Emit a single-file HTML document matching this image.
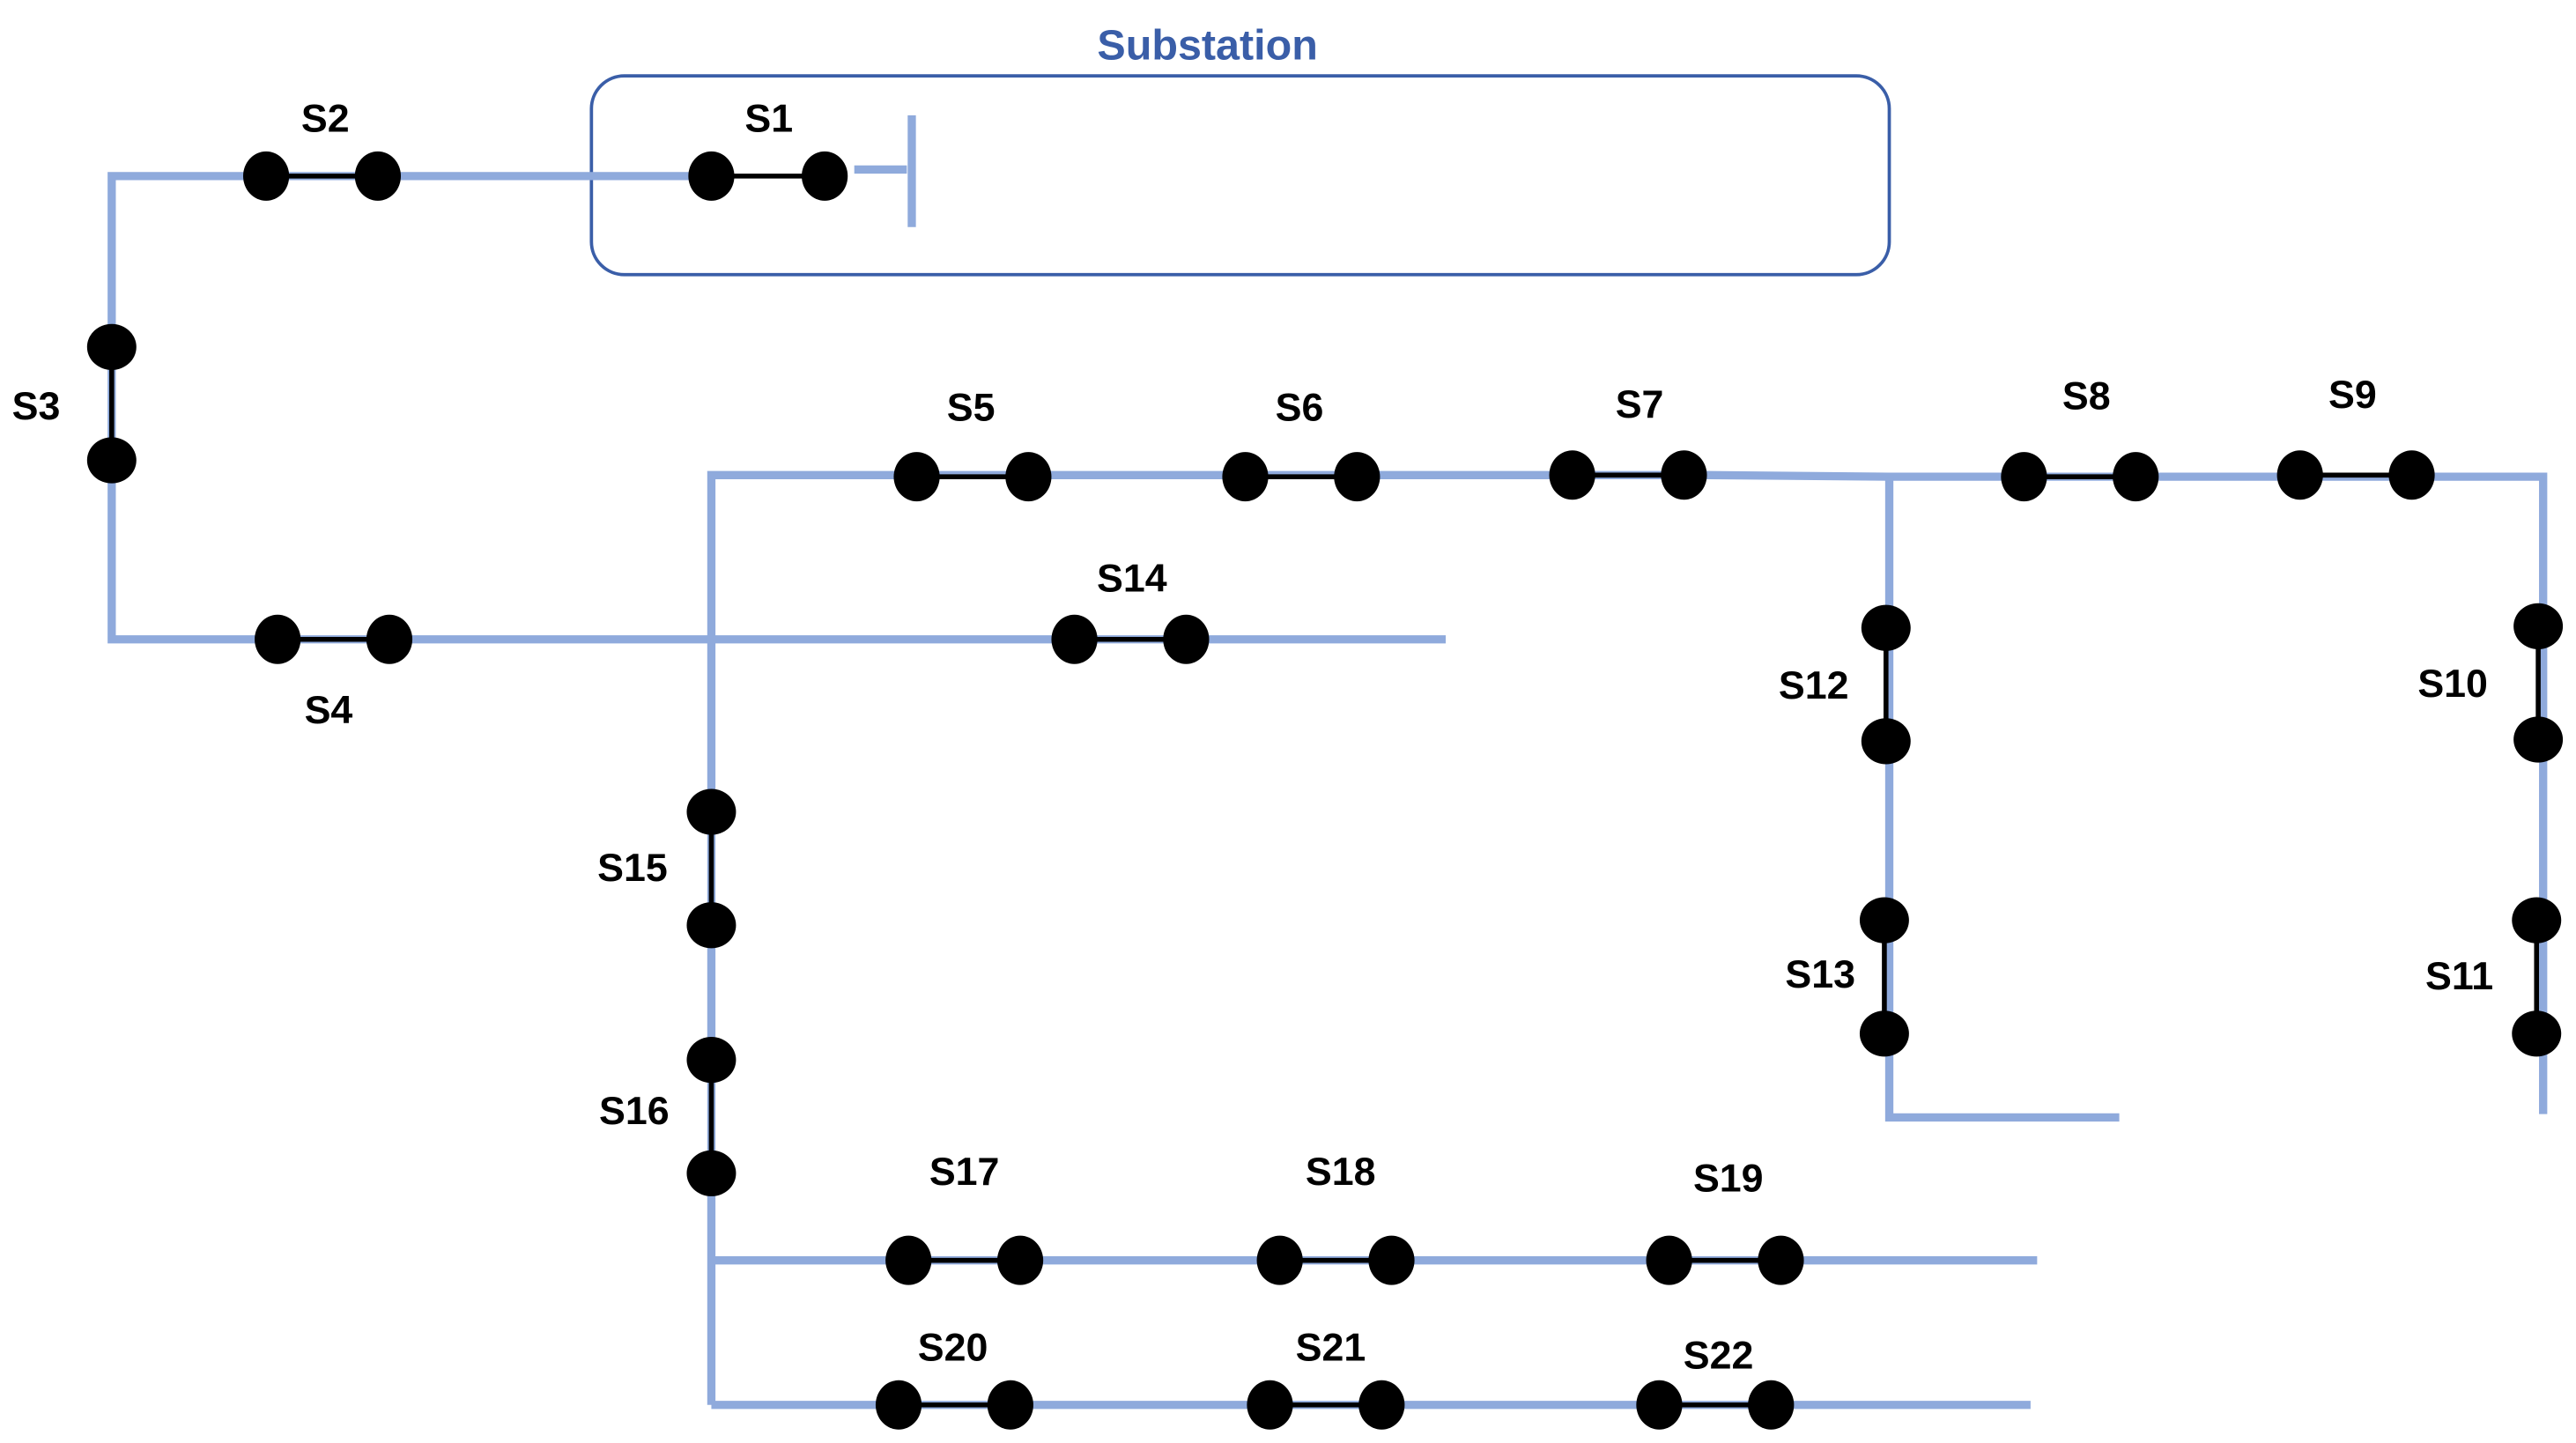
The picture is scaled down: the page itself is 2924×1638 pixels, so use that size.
<!DOCTYPE html>
<html><head><meta charset="utf-8"><style>html,body{margin:0;padding:0;background:#fff}svg{display:block}</style></head>
<body>
<svg width="2924" height="1638" viewBox="0 0 1568 878" xmlns="http://www.w3.org/2000/svg">
<rect x="0" y="0" width="1568" height="878" fill="#fff"/>
<rect x="360" y="46" width="790" height="121" rx="20" fill="none" stroke="#3a5ea8" stroke-width="2"/>
<text x="735" y="36" text-anchor="middle" font-family="Liberation Sans, sans-serif" font-weight="bold" font-size="26" fill="#3a5ea8">Substation</text>
<g stroke="#8faadc" stroke-width="5" fill="none">
<path d="M420,107 H68 V389 H880"/>
<path d="M520,103 H552"/>
<path d="M555,70 V138"/>
<path d="M433,855 V289 H1040 L1150,290 H1548 V678"/>
<path d="M1150,290 V680 H1290"/>
<path d="M433,767 H1240"/>
<path d="M433,855 H1236"/>
</g>
<g stroke="#000" stroke-width="3">
<line x1="162" y1="107" x2="230" y2="107"/><line x1="433" y1="107" x2="502" y2="107"/>
<line x1="68" y1="211" x2="68" y2="280"/>
<line x1="169" y1="389" x2="237" y2="389"/><line x1="654" y1="389" x2="722" y2="389"/>
<line x1="558" y1="290" x2="626" y2="290"/><line x1="758" y1="290" x2="826" y2="290"/>
<line x1="957" y1="289" x2="1025" y2="289"/><line x1="1232" y1="290" x2="1300" y2="290"/>
<line x1="1400" y1="289" x2="1468" y2="289"/>
<line x1="1148" y1="382" x2="1148" y2="451"/><line x1="1147" y1="560" x2="1147" y2="629"/>
<line x1="1545" y1="381" x2="1545" y2="450"/><line x1="1544" y1="560" x2="1544" y2="629"/>
<line x1="433" y1="494" x2="433" y2="563"/><line x1="433" y1="645" x2="433" y2="714"/>
<line x1="553" y1="767" x2="621" y2="767"/><line x1="779" y1="767" x2="847" y2="767"/><line x1="1016" y1="767" x2="1084" y2="767"/>
<line x1="547" y1="855" x2="615" y2="855"/><line x1="773" y1="855" x2="841" y2="855"/><line x1="1010" y1="855" x2="1078" y2="855"/>
</g>
<g fill="#000">
<ellipse cx="162" cy="107" rx="14" ry="15"/><ellipse cx="230" cy="107" rx="14" ry="15"/>
<ellipse cx="433" cy="107" rx="14" ry="15"/><ellipse cx="502" cy="107" rx="14" ry="15"/>
<ellipse cx="68" cy="211" rx="15" ry="14"/><ellipse cx="68" cy="280" rx="15" ry="14"/>
<ellipse cx="169" cy="389" rx="14" ry="15"/><ellipse cx="237" cy="389" rx="14" ry="15"/>
<ellipse cx="654" cy="389" rx="14" ry="15"/><ellipse cx="722" cy="389" rx="14" ry="15"/>
<ellipse cx="558" cy="290" rx="14" ry="15"/><ellipse cx="626" cy="290" rx="14" ry="15"/>
<ellipse cx="758" cy="290" rx="14" ry="15"/><ellipse cx="826" cy="290" rx="14" ry="15"/>
<ellipse cx="957" cy="289" rx="14" ry="15"/><ellipse cx="1025" cy="289" rx="14" ry="15"/>
<ellipse cx="1232" cy="290" rx="14" ry="15"/><ellipse cx="1300" cy="290" rx="14" ry="15"/>
<ellipse cx="1400" cy="289" rx="14" ry="15"/><ellipse cx="1468" cy="289" rx="14" ry="15"/>
<ellipse cx="1148" cy="382" rx="15" ry="14"/><ellipse cx="1148" cy="451" rx="15" ry="14"/>
<ellipse cx="1147" cy="560" rx="15" ry="14"/><ellipse cx="1147" cy="629" rx="15" ry="14"/>
<ellipse cx="1545" cy="381" rx="15" ry="14"/><ellipse cx="1545" cy="450" rx="15" ry="14"/>
<ellipse cx="1544" cy="560" rx="15" ry="14"/><ellipse cx="1544" cy="629" rx="15" ry="14"/>
<ellipse cx="433" cy="494" rx="15" ry="14"/><ellipse cx="433" cy="563" rx="15" ry="14"/>
<ellipse cx="433" cy="645" rx="15" ry="14"/><ellipse cx="433" cy="714" rx="15" ry="14"/>
<ellipse cx="553" cy="767" rx="14" ry="15"/><ellipse cx="621" cy="767" rx="14" ry="15"/>
<ellipse cx="779" cy="767" rx="14" ry="15"/><ellipse cx="847" cy="767" rx="14" ry="15"/>
<ellipse cx="1016" cy="767" rx="14" ry="15"/><ellipse cx="1084" cy="767" rx="14" ry="15"/>
<ellipse cx="547" cy="855" rx="14" ry="15"/><ellipse cx="615" cy="855" rx="14" ry="15"/>
<ellipse cx="773" cy="855" rx="14" ry="15"/><ellipse cx="841" cy="855" rx="14" ry="15"/>
<ellipse cx="1010" cy="855" rx="14" ry="15"/><ellipse cx="1078" cy="855" rx="14" ry="15"/>
</g>
<g font-family="Liberation Sans, sans-serif" font-weight="bold" font-size="24" fill="#000" text-anchor="middle">
<text x="198" y="80">S2</text><text x="468" y="80">S1</text>
<text x="22" y="255">S3</text><text x="200" y="440">S4</text>
<text x="689" y="360">S14</text>
<text x="591" y="256">S5</text><text x="791" y="256">S6</text><text x="998" y="254">S7</text>
<text x="1270" y="249">S8</text><text x="1432" y="248">S9</text>
<text x="1104" y="425">S12</text><text x="1108" y="601">S13</text>
<text x="1493" y="424">S10</text><text x="1497" y="602">S11</text>
<text x="385" y="536">S15</text><text x="386" y="684">S16</text>
<text x="587" y="721">S17</text><text x="816" y="721">S18</text><text x="1052" y="725">S19</text>
<text x="580" y="828">S20</text><text x="810" y="828">S21</text><text x="1046" y="833">S22</text>
</g>
</svg>
</body></html>
